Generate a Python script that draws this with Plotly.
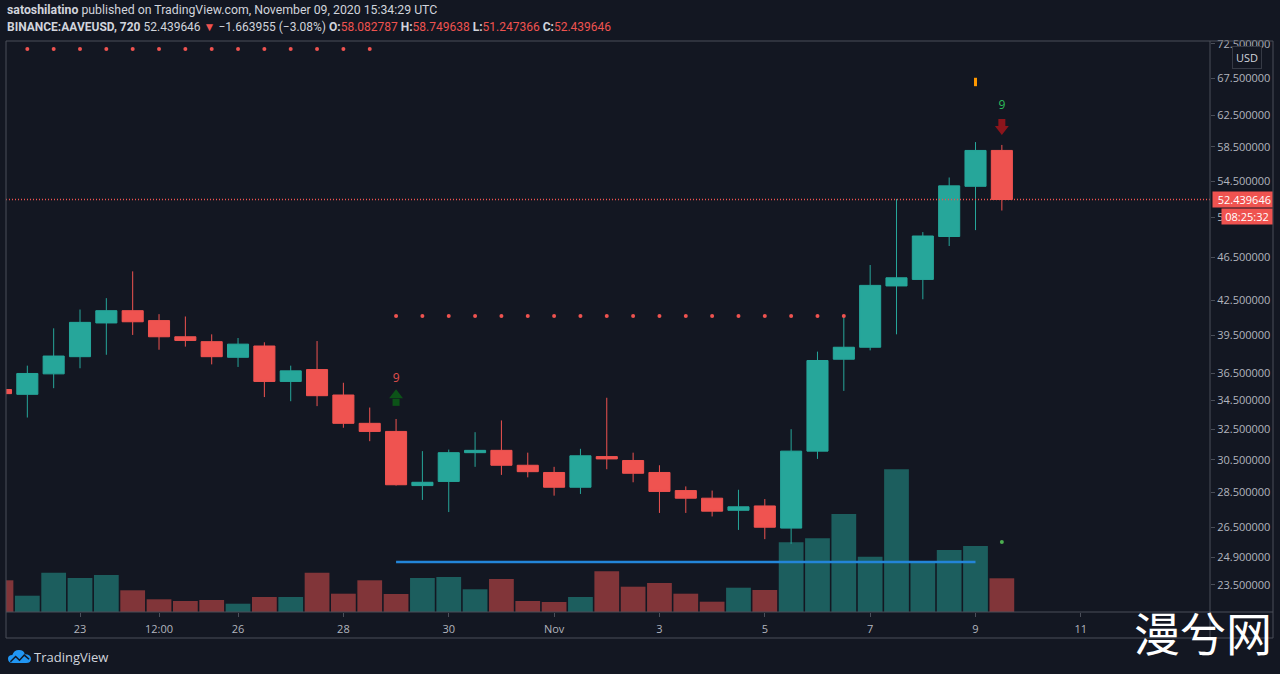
import math
import base64
import pandas as pd
import plotly.graph_objects as go

# ---------------- data (12h candles, BINANCE:AAVEUSD) ----------------
times = pd.date_range("2020-10-21 12:00", periods=39, freq="12h")

opens = [35.3, 34.95, 36.47, 37.8, 40.55, 41.6, 40.75, 39.4, 39.0, 37.75, 38.65, 35.9, 36.8,
         34.9, 32.9, 32.35, 28.9, 29.15, 30.95, 31.1, 30.15, 29.7, 28.8, 30.7, 30.45, 29.7,
         28.6, 28.15, 27.45, 27.7, 26.45, 31.05, 37.6, 38.55, 43.8, 44.4, 48.55, 53.9, 58.082787]
highs = [35.4, 37.1, 40.1, 41.7, 42.7, 45.15, 41.3, 41.1, 39.6, 39.3, 38.95, 37.1, 39.05,
         35.8, 34.0, 33.2, 31.05, 31.15, 32.3, 33.1, 30.95, 30.05, 31.2, 34.7, 30.95, 30.15,
         28.85, 28.6, 28.65, 28.1, 32.5, 38.2, 41.15, 45.75, 52.5, 49.0, 54.9, 59.1, 58.749638]
lows = [34.9, 33.3, 35.4, 36.9, 37.95, 39.55, 38.35, 38.6, 37.2, 37.0, 34.75, 34.45, 34.1,
        32.6, 31.7, 28.9, 28.05, 27.35, 30.05, 29.55, 29.4, 28.3, 28.4, 29.9, 29.1, 27.3,
        27.3, 27.1, 26.35, 25.85, 25.6, 30.55, 35.2, 38.3, 39.6, 42.6, 47.6, 49.2, 51.247366]
closes = [35.0, 36.5, 37.85, 40.6, 41.6, 40.65, 39.4, 39.1, 37.8, 38.8, 35.9, 36.7, 34.85,
          32.9, 32.35, 28.95, 29.1, 30.95, 31.1, 30.15, 29.75, 28.8, 30.75, 30.55, 29.65, 28.55,
          28.15, 27.4, 27.65, 26.5, 31.05, 37.5, 38.55, 43.85, 44.55, 48.6, 53.95, 58.08, 52.439646]
volumes_k = [31.7, 16.3, 39.3, 34, 37, 21.7, 12.7, 11, 12, 8.3, 15, 15, 39.3, 18.3, 31.7, 18,
             34, 35, 22.7, 33, 11, 10, 15, 40.7, 25.3, 29, 18.3, 10.3, 24.3, 22, 69.7, 73.7,
             98, 55.3, 142.7, 51, 62, 66, 33.7]

top_dot_level = 71.75      # sell-setup dots (Oct 22 - Oct 28 12:00)
mid_dot_level = 41.14      # resistance dots (Oct 29 - Nov 6 12:00)
support_level = 24.65      # blue support line (Oct 29 - Nov 9)
last_price = 52.439646

price_ticks = [72.5, 67.5, 62.5, 58.5, 54.5, 50.5, 46.5, 42.5, 39.5, 36.5, 34.5, 32.5,
               30.5, 28.5, 26.5, 24.9, 23.5]
time_tickvals = ["2020-10-23", "2020-10-24 12:00", "2020-10-26", "2020-10-28", "2020-10-30",
                 "2020-11-01", "2020-11-03", "2020-11-05", "2020-11-07", "2020-11-09",
                 "2020-11-11"]
time_ticktext = ["23", "12:00", "26", "28", "30", "Nov", "3", "5", "7", "9", "11"]

# ---------------- style ----------------
BG = "#131722"
UP = "#26a69a"
DOWN = "#ef5350"
VOL_UP = "rgba(38,166,154,0.5)"
VOL_DOWN = "rgba(239,83,80,0.5)"
FRAME = "#4a4e59"
TXT = "#b2b5be"
FONT = "Open Sans"
HFONT = "Roboto"

X_RANGE = ["2020-10-21 14:17", "2020-11-13 10:50"]
Y_LO, Y_HI = math.log10(22.21), math.log10(72.95)

def ypaper(p):
    return (math.log10(p) - Y_LO) / (Y_HI - Y_LO)

fig = go.Figure()

vol_colors = [VOL_UP if c >= o else VOL_DOWN for o, c in zip(opens, closes)]
fig.add_trace(go.Bar(x=times, y=volumes_k, yaxis="y", marker_color=vol_colors,
                     marker_line_width=0, width=12 * 3600 * 1000 * 0.94,
                     hoverinfo="skip", showlegend=False))

fig.add_trace(go.Candlestick(
    x=times, open=opens, high=highs, low=lows, close=closes, yaxis="y2",
    increasing=dict(line=dict(color=UP, width=1), fillcolor=UP),
    decreasing=dict(line=dict(color=DOWN, width=1), fillcolor=DOWN),
    showlegend=False))

# dotted levels
fig.add_trace(go.Scatter(x=times[1:15], y=[top_dot_level] * 14, yaxis="y2", mode="markers",
                         marker=dict(color=DOWN, size=4, line=dict(width=0)),
                         showlegend=False, hoverinfo="skip"))
fig.add_trace(go.Scatter(x=times[15:33], y=[mid_dot_level] * 18, yaxis="y2", mode="markers",
                         marker=dict(color=DOWN, size=4, line=dict(width=0)),
                         showlegend=False, hoverinfo="skip"))
# support line
fig.add_trace(go.Scatter(x=[times[15], times[37]], y=[support_level, support_level], yaxis="y2",
                         mode="lines", line=dict(color="#2385d8", width=2.5),
                         showlegend=False, hoverinfo="skip"))
# last price dotted line
fig.add_trace(go.Scatter(x=X_RANGE, y=[last_price, last_price], yaxis="y2", mode="lines",
                         line=dict(color=DOWN, width=1.3, dash="1px,2px"),
                         showlegend=False, hoverinfo="skip"))

# TD sequential signals
fig.add_trace(go.Scatter(x=[times[15]], y=[36.08], yaxis="y2", mode="text", text=["9"],
                         textfont=dict(color="#e0504d", size=12, family=FONT),
                         showlegend=False, hoverinfo="skip"))
fig.add_trace(go.Scatter(x=[times[15], times[15]], y=[34.89, 34.37], yaxis="y2", mode="markers",
                         marker=dict(color="#0a6e14", size=[12, 7],
                                     symbol=["triangle-up", "square"], line=dict(width=0)),
                         showlegend=False, hoverinfo="skip"))
fig.add_trace(go.Scatter(x=[times[38]], y=[63.71], yaxis="y2", mode="text", text=["9"],
                         textfont=dict(color="#2dbd5a", size=12, family=FONT),
                         showlegend=False, hoverinfo="skip"))
fig.add_trace(go.Scatter(x=[times[38], times[38]], y=[61.56, 60.73], yaxis="y2", mode="markers",
                         marker=dict(color="#c0161a", size=[7, 12],
                                     symbol=["square", "triangle-down"], line=dict(width=0)),
                         showlegend=False, hoverinfo="skip"))
fig.add_trace(go.Scatter(x=[times[37]], y=[66.98], yaxis="y2", mode="markers",
                         marker=dict(symbol="line-ns", size=6,
                                     line=dict(color="#ff9800", width=3)),
                         showlegend=False, hoverinfo="skip"))
fig.add_trace(go.Scatter(x=[times[38]], y=[25.69], yaxis="y2", mode="markers",
                         marker=dict(color="#4caf50", size=4, line=dict(width=0)),
                         showlegend=False, hoverinfo="skip"))

# ---------------- layout ----------------
W, H = 1280, 674
ML, MR, MT, MB = 6, 70, 41, 62
PW, PH = W - ML - MR, H - MT - MB

def px_x(px):
    return (px - ML) / PW

def px_y(py):
    return (H - MB - py) / PH

fig.update_layout(
    width=W, height=H,
    margin=dict(l=ML, r=MR, t=MT, b=MB),
    paper_bgcolor=BG, plot_bgcolor=BG,
    font=dict(family=FONT, color=TXT, size=11),
    showlegend=False,
    boxgap=0.2, boxgroupgap=0,
    xaxis=dict(type="date", range=X_RANGE, showgrid=False, zeroline=False,
               rangeslider=dict(visible=False), tickmode="array",
               tickvals=time_tickvals, ticktext=time_ticktext,
               ticks="outside", ticklen=4, tickcolor=FRAME, ticklabelstandoff=3,
               tickfont=dict(size=11, color=TXT), showline=False),
    yaxis=dict(range=[0, PH], visible=False, fixedrange=True),
    yaxis2=dict(type="log", range=[Y_LO, Y_HI], overlaying="y", side="right", anchor="x",
                showgrid=False, zeroline=False, tickmode="array", tickvals=price_ticks,
                ticktext=["%.6f" % v for v in price_ticks], ticks="outside", ticklen=4,
                tickcolor=FRAME, tickfont=dict(size=11, color=TXT), showline=False),
)

x_outer = px_x(1273)
y_outer = px_y(638)
fig.add_shape(type="rect", xref="paper", yref="paper", x0=0, x1=x_outer, y0=y_outer, y1=1,
              line=dict(color=FRAME, width=1))
fig.add_shape(type="line", xref="paper", yref="paper", x0=1, x1=1, y0=y_outer, y1=1,
              line=dict(color=FRAME, width=1))
fig.add_shape(type="line", xref="paper", yref="paper", x0=0, x1=x_outer, y0=0, y1=0,
              line=dict(color=FRAME, width=1))

# header
fig.add_annotation(xref="paper", yref="paper", x=px_x(5), y=px_y(10), xanchor="left",
                   yanchor="middle", showarrow=False, align="left",
                   font=dict(size=12.3, color="#d1d4dc", family=HFONT),
                   text="<b>satoshilatino</b> published on TradingView.com, November 09, 2020 15:34:29 UTC")
red = "<span style='color:#ef5350'>%s</span>"
fig.add_annotation(xref="paper", yref="paper", x=px_x(5), y=px_y(27), xanchor="left",
                   yanchor="middle", showarrow=False, align="left",
                   font=dict(size=12, color="#d1d4dc", family=HFONT),
                   text=("<b>BINANCE:AAVEUSD, 720</b> 52.439646 " + red % "▼" +
                         " −1.663955 (−3.08%) <b>O:</b>" + red % "58.082787" +
                         " <b>H:</b>" + red % "58.749638" + " <b>L:</b>" + red % "51.247366" +
                         " <b>C:</b>" + red % "52.439646"))

# USD label
fig.add_annotation(xref="paper", yref="paper", x=px_x(1247), y=px_y(57), showarrow=False,
                   xanchor="center", yanchor="middle",
                   text="USD", font=dict(size=11, color="#d1d4dc", family=FONT),
                   bgcolor=BG, bordercolor="#363a45", borderwidth=1, borderpad=3)

# last price tags
fig.add_annotation(xref="paper", yref="paper", x=px_x(1212), y=ypaper(last_price),
                   xanchor="left", yanchor="middle", showarrow=False,
                   text="%.6f" % last_price, font=dict(size=11, color="#ffffff", family=FONT),
                   bgcolor=DOWN, width=57, height=13, align="right", borderpad=1)
fig.add_annotation(xref="paper", yref="paper", x=px_x(1221), y=px_y(216.5),
                   xanchor="left", yanchor="middle", showarrow=False,
                   text="08:25:32", font=dict(size=11, color="#ffffff", family=FONT),
                   bgcolor=DOWN, width=48, height=13, align="center", borderpad=1)

# TradingView logo
svg = ("<svg xmlns='http://www.w3.org/2000/svg' width='24' height='16' viewBox='0 0 24 16'>"
       "<path d='M5 15 Q0 15 0 10.5 Q0 6.5 4.5 6.5 Q6 1 11.5 1 Q16.5 1 17.5 5.5 "
       "Q24 5.5 24 10.5 Q24 15 19 15 Z' fill='#2196f3'/>"
       "<polyline points='2.5,13.5 8,8 12,12 17,6.5 22,11' fill='none' stroke='#131722' "
       "stroke-width='1.6'/></svg>")
fig.add_layout_image(source="data:image/svg+xml;base64," + base64.b64encode(svg.encode()).decode(),
                     xref="paper", yref="paper", x=px_x(8), y=px_y(649),
                     sizex=23 / PW, sizey=15 / PH, sizing="stretch",
                     xanchor="left", yanchor="top", layer="above")
fig.add_annotation(xref="paper", yref="paper", x=px_x(32), y=px_y(657), xanchor="left",
                   yanchor="middle", showarrow=False, text="TradingView",
                   font=dict(size=13, color="#d1d4dc", family=FONT))

# watermark
fig.add_annotation(xref="paper", yref="paper", x=px_x(1203), y=px_y(631), xanchor="center",
                   yanchor="middle", showarrow=False, text="漫兮网",
                   font=dict(size=46, color="#ffffff", family="Noto Sans CJK SC"))

fig.write_html("out.html", config={"displayModeBar": False},
               post_script="document.body.style.margin='0';document.body.style.background='%s';" % BG)
